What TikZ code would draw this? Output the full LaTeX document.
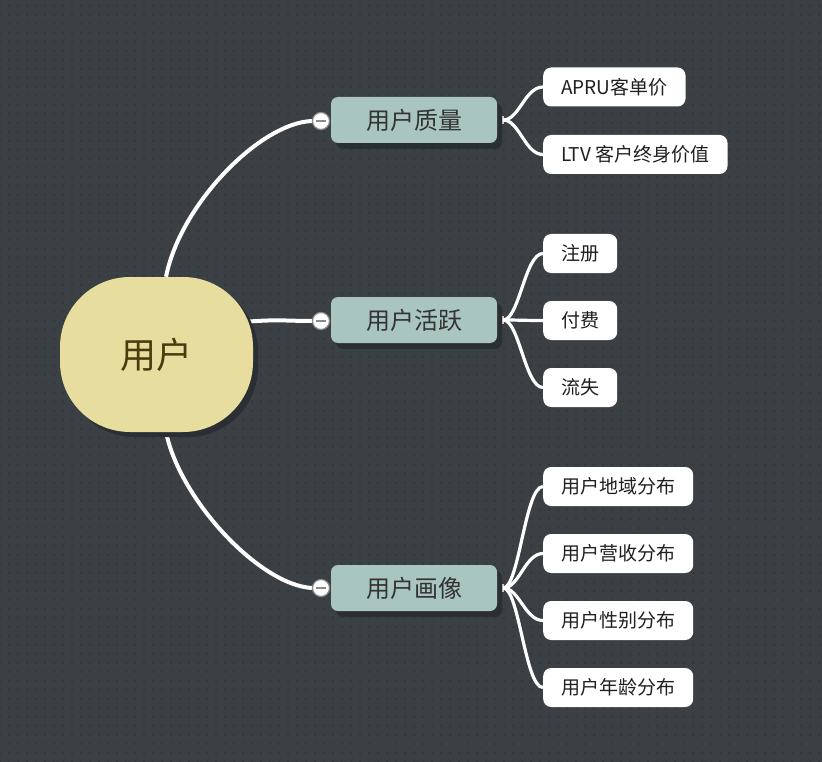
\documentclass[tikz,border=0pt]{standalone}
\usepackage{fontspec}
\setmainfont{Noto Sans CJK SC}
\usetikzlibrary{positioning,shadows,patterns.meta}

\definecolor{canvasbg}{HTML}{3B4045}
\definecolor{dotcol}{HTML}{31353A}
\definecolor{shadowcol}{HTML}{2B2F33}
\definecolor{rootfill}{HTML}{E7DD9F}
\definecolor{roottext}{HTML}{4A3A0E}
\definecolor{topicfill}{HTML}{A9C5C0}
\definecolor{topictext}{HTML}{333333}
\definecolor{foldgray}{HTML}{8A8A8A}
\definecolor{stubgray}{HTML}{CFCFCF}

\pgfdeclarelayer{back}
\pgfdeclarelayer{edges}
\pgfsetlayers{back,edges,main}

\tikzset{
    centre/.style={rounded corners=70pt, fill=rootfill, text=roottext,
        minimum width=193pt, minimum height=155pt,
        font=\fontsize{36}{36}\selectfont,
        drop shadow={shadow xshift=5pt, shadow yshift=-5pt, fill=shadowcol, opacity=1}},
    topic/.style={rounded corners=7pt, fill=topicfill, text=topictext,
        minimum width=166pt, minimum height=46pt,
        font=\fontsize{24}{24}\selectfont,
        drop shadow={shadow xshift=5pt, shadow yshift=-6pt, fill=shadowcol, opacity=1}},
    leaf/.style={rounded corners=8pt, fill=white, text=black!88, anchor=west,
        minimum height=39pt, inner xsep=18pt,
        font=\fontsize{19}{19}\selectfont},
    fold/.style={circle, draw=foldgray, fill=white, line width=1.2pt,
        minimum size=17pt, inner sep=0pt},
    link/.style={draw=white, line width=4pt},
    twig/.style={draw=white, line width=3.2pt},
}

\begin{document}
\begin{tikzpicture}[x=1pt, y=-1pt]
    \useasboundingbox (0,0) rectangle (822,762);
    \begin{pgfonlayer}{back}
        \fill[canvasbg] (0,0) rectangle (822,762);
        \fill[pattern={Dots[distance=9pt, radius=1pt]}, pattern color=dotcol] (0,0) rectangle (822,762);
    \end{pgfonlayer}

    \node[centre] (user) at (156.5,354.5) {用户};

    \node[topic] (quality)  at (414,120) {用户质量};
    \node[topic] (active)   at (414,320) {用户活跃};
    \node[topic] (portrait) at (414,588) {用户画像};

    \foreach \t/\y in {quality/121, active/321, portrait/588} {
        \node[fold] (\t-fold) at (321,\y) {};
        \draw[foldgray, line width=1.4pt] ([xshift=-5pt]\t-fold.center) -- ([xshift=5pt]\t-fold.center);
    }

    \node[leaf] (arpu) at (543,87)  {APRU客单价};
    \node[leaf] (ltv)  at (543,154.5) {LTV 客户终身价值};

    \node[leaf] (signup) at (543,253.5) {注册};
    \node[leaf] (pay)    at (543,320.5) {付费};
    \node[leaf] (churn)  at (543,387.5) {流失};

    \node[leaf] (region)  at (543,486.5) {用户地域分布};
    \node[leaf] (revenue) at (543,553.5) {用户营收分布};
    \node[leaf] (gender)  at (543,620.5) {用户性别分布};
    \node[leaf] (age)     at (543,687.5) {用户年龄分布};

    \begin{pgfonlayer}{edges}
        \draw[link] (user.83) .. controls +(14,-72) and +(-52,2) .. (quality-fold.west);
        \draw[link, shorten <=-6pt] (user.19) .. controls +(25,-2) and +(-25,0) .. (active-fold.west);
        \draw[link] (user.-83) .. controls +(14,68) and +(-52,-3) .. (portrait-fold.west);

        \foreach \t/\leaves in {quality/{arpu,ltv}, active/{signup,pay,churn}, portrait/{region,revenue,gender,age}} {
            \fill[stubgray] ([yshift=4pt]\t.east) rectangle +(7,8);
            \foreach \l in \leaves {
                \draw[twig] ([xshift=6pt]\t.east) .. controls +(16,0) and +(-18,0) .. (\l.west);
            }
        }
    \end{pgfonlayer}
\end{tikzpicture}
\end{document}
